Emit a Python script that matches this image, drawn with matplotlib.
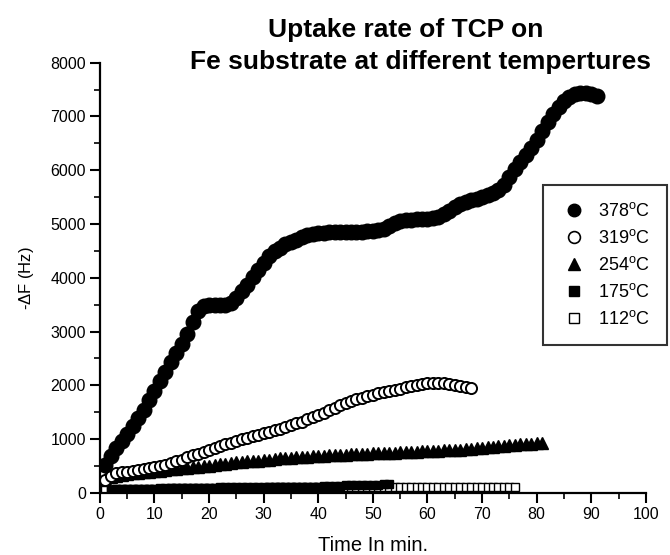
import numpy as np
import matplotlib
matplotlib.use('Agg')
from matplotlib import pyplot as plt
from matplotlib.lines import Line2D

plt.rcParams['font.family'] = ['Liberation Sans', 'DejaVu Sans']
plt.rcParams['mathtext.fontset'] = 'custom'
plt.rcParams['mathtext.rm'] = 'Liberation Sans'

# uptake curves, one value per minute
t378 = np.arange(1, 92)
f378 = [520, 690, 830, 960, 1100, 1250, 1390, 1540, 1720, 1900,
        2080, 2250, 2430, 2600, 2770, 2960, 3170, 3380, 3480, 3500,
        3500, 3500, 3500, 3540, 3630, 3750, 3870, 4010, 4140, 4280,
        4400, 4490, 4560, 4620, 4670, 4710, 4750, 4790, 4810, 4830,
        4840, 4850, 4850, 4850, 4850, 4850, 4855, 4860, 4865, 4870,
        4880, 4910, 4960, 5010, 5050, 5070, 5080, 5090, 5090, 5100,
        5110, 5130, 5180, 5240, 5310, 5370, 5410, 5440, 5470, 5510,
        5540, 5580, 5640, 5730, 5880, 6030, 6150, 6280, 6410, 6570,
        6730, 6890, 7050, 7180, 7290, 7370, 7410, 7430, 7440, 7420,
        7380]

t319 = np.arange(1, 69)
f319 = [240, 320, 365, 380, 395, 410, 425, 440, 455, 475,
        495, 520, 550, 585, 620, 660, 695, 730, 765, 800,
        840, 870, 900, 935, 965, 995, 1025, 1050, 1080, 1110,
        1135, 1165, 1195, 1225, 1255, 1290, 1325, 1365, 1405, 1445,
        1490, 1535, 1580, 1625, 1665, 1705, 1740, 1770, 1800, 1825,
        1850, 1875, 1895, 1920, 1940, 1960, 1980, 2000, 2020, 2035,
        2040, 2040, 2035, 2025, 2010, 1995, 1975, 1950]

t254 = np.arange(1, 82)
f254 = [250, 290, 310, 330, 345, 360, 375, 385, 395, 405,
        415, 425, 435, 445, 455, 465, 475, 485, 495, 505,
        515, 530, 545, 555, 565, 575, 585, 595, 600, 610,
        620, 630, 640, 645, 650, 660, 670, 675, 680, 685,
        690, 695, 700, 705, 710, 715, 720, 725, 730, 735,
        740, 745, 745, 750, 755, 760, 760, 765, 770, 775,
        780, 785, 790, 795, 800, 805, 810, 820, 830, 840,
        845, 855, 865, 875, 885, 895, 905, 910, 915, 920,
        925]

t175 = np.arange(2, 54)
f175 = [60, 65, 70, 70, 75, 75, 80, 80, 80, 85,
        85, 85, 90, 90, 90, 90, 95, 95, 95, 95,
        100, 100, 100, 100, 100, 105, 105, 105, 105, 105,
        110, 110, 110, 110, 110, 110, 115, 115, 115, 120,
        120, 125, 135, 145, 150, 150, 150, 150, 155, 155,
        160, 160]

t112 = np.arange(1, 77)
f112 = [50, 60, 65, 70, 70, 75, 75, 75, 80, 80,
        80, 80, 85, 85, 85, 85, 85, 90, 90, 90,
        90, 90, 90, 95, 95, 95, 95, 95, 95, 95,
        100, 100, 100, 100, 100, 100, 100, 100, 100, 100,
        100, 100, 100, 100, 100, 100, 100, 100, 100, 100,
        100, 100, 100, 100, 100, 100, 100, 100, 100, 100,
        100, 100, 100, 105, 105, 105, 105, 105, 105, 105,
        105, 105, 105, 105, 105, 105]

labels = ['378$^{\\rm o}$C', '319$^{\\rm o}$C', '254$^{\\rm o}$C',
          '175$^{\\rm o}$C', '112$^{\\rm o}$C']

fig = plt.figure(figsize=(6.7, 5.55), dpi=100)
ax = fig.add_axes([0.149, 0.112, 0.815, 0.775])

ax.plot(t112, f112, ls='none', marker='s', ms=6, mfc='white', mec='black', mew=1.0)
ax.plot(t175, f175, ls='none', marker='s', ms=6, mfc='black', mec='black')
ax.plot(t254, f254, ls='none', marker='^', ms=8.5, mfc='black', mec='black')
ax.plot(t319, f319, ls='none', marker='o', ms=8, mfc='white', mec='black', mew=1.4)
ax.plot(t378, f378, ls='none', marker='o', ms=10.5, mfc='black', mec='black')

ax.set_xlim(0, 100)
ax.set_ylim(0, 8000)
ax.set_xticks(np.arange(0, 101, 10))
ax.set_xticks(np.arange(5, 100, 10), minor=True)
ax.set_yticks(np.arange(0, 8001, 1000))
ax.set_yticks(np.arange(500, 8000, 1000), minor=True)
for s in ['top', 'right']:
    ax.spines[s].set_visible(False)
for s in ['left', 'bottom']:
    ax.spines[s].set_linewidth(1.6)
ax.tick_params(which='major', direction='out', length=7, width=1.5, labelsize=11.5, pad=3)
ax.tick_params(which='minor', direction='out', length=4, width=1.2)

ax.set_xlabel('Time In min.', fontsize=14.5, labelpad=10)
ax.set_ylabel('-$\\Delta$F (Hz)', fontsize=12, labelpad=10)

fig.text(406 / 670, 1 - 37 / 555, 'Uptake rate of TCP on', ha='center', va='baseline',
         fontsize=19, fontweight='bold')
fig.text(420 / 670, 1 - 69 / 555, 'Fe substrate at different tempertures', ha='center',
         va='baseline', fontsize=19, fontweight='bold')

handles = [
    Line2D([], [], ls='none', marker='o', ms=9, mfc='black', mec='black'),
    Line2D([], [], ls='none', marker='o', ms=8.5, mfc='white', mec='black', mew=1.2),
    Line2D([], [], ls='none', marker='^', ms=9, mfc='black', mec='black'),
    Line2D([], [], ls='none', marker='s', ms=7.5, mfc='black', mec='black'),
    Line2D([], [], ls='none', marker='s', ms=7.5, mfc='white', mec='black', mew=1.0),
]
leg = fig.legend(handles, labels, loc='upper left', bbox_to_anchor=(543 / 670, 1 - 185 / 555),
                 frameon=True, fancybox=False, fontsize=13, borderpad=0.95,
                 labelspacing=0.5, handlelength=1.5, handletextpad=0.6,
                 borderaxespad=0, numpoints=1)
leg.get_frame().set_edgecolor('black')
leg.get_frame().set_linewidth(1.5)

fig.savefig('out.png', dpi=100)
